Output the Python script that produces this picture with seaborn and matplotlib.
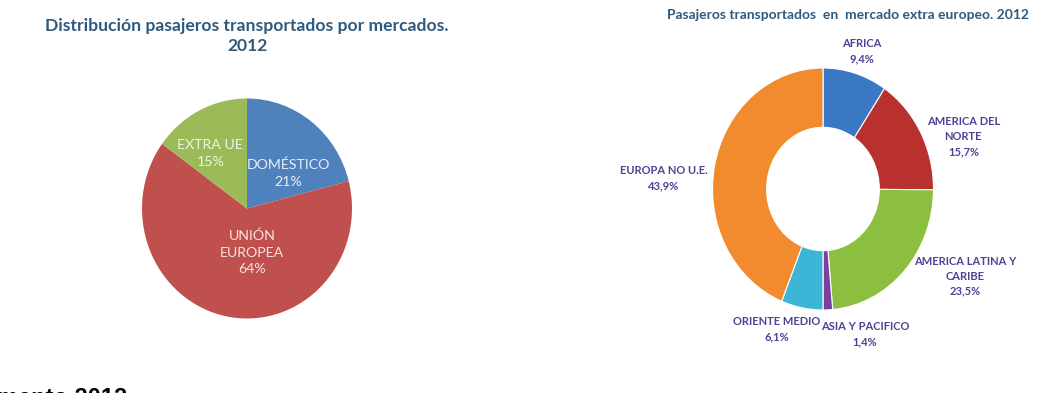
import matplotlib
matplotlib.use("Agg")
import matplotlib.pyplot as plt
import seaborn as sns

sns.set_theme(style="white")
plt.rcParams['font.family'] = ['Lato', 'DejaVu Sans']

# datos: distribucion por mercados
mercados = ['DOMÉSTICO', 'UNIÓN\nEUROPEA', 'EXTRA UE']
mercados_pct = [21, 64, 15]

# datos: mercado extra europeo
regiones = ['AFRICA', 'AMERICA DEL\nNORTE', 'AMERICA LATINA Y\nCARIBE',
            'ASIA Y PACIFICO', 'ORIENTE MEDIO', 'EUROPA NO U.E.']
regiones_pct = [9.4, 15.7, 23.5, 1.4, 6.1, 43.9]
regiones_txt = ['9,4%', '15,7%', '23,5%', '1,4%', '6,1%', '43,9%']

col_merc = ['#4F81BD', '#C0504D', '#9BBB59']
col_reg = ['#3A78C3', '#B8312F', '#8CBF3F', '#7B3FA0', '#3DB5D6', '#F28A2E']

W, H = 1060, 393
fig = plt.figure(figsize=(W / 100, H / 100), dpi=100)


def axes_px(cx, cy, rx, ry):
    return fig.add_axes([(cx - rx) / W, 1 - (cy + ry) / H, 2 * rx / W, 2 * ry / H])


# ---- pie izquierda
ax1 = axes_px(247, 208.5, 105, 110)
ax1.pie(mercados_pct, colors=col_merc, startangle=90, counterclock=False,
        wedgeprops=dict(linewidth=0))
ax1.set_aspect('auto')
ax1.set_xlim(-1, 1)
ax1.set_ylim(-1, 1)
pos1 = [(0.39, 0.32), (0.05, -0.40), (-0.35, 0.50)]
txtcol1 = ['#E6EEF8', '#F5E2E1', '#EEF3E2']
for lab, v, p, c in zip(mercados, mercados_pct, pos1, txtcol1):
    ax1.text(p[0], p[1], f'{lab}\n{v}%', ha='center', va='center',
             fontsize=10.2, color=c, linespacing=1.45)

fig.text(247 / W, 1 - 36 / H, 'Distribución pasajeros transportados por mercados.\n2012',
         ha='center', va='center', fontsize=12.6, fontweight='bold',
         color='#2F5A7E', linespacing=1.25)

# ---- donut derecha
ax2 = axes_px(823, 189, 110.5, 121)
ax2.pie(regiones_pct, colors=col_reg, startangle=90, counterclock=False,
        wedgeprops=dict(width=0.49, edgecolor='white', linewidth=0.8))
ax2.set_aspect('auto')
ax2.set_xlim(-1, 1)
ax2.set_ylim(-1, 1)
pos2 = [(0.35, 1.14), (1.27, 0.43), (1.29, -0.72),
        (0.38, -1.20), (-0.42, -1.16), (-1.44, 0.09)]
for lab, t, p in zip(regiones, regiones_txt, pos2):
    ax2.text(p[0], p[1], f'{lab}\n{t}', ha='center', va='center',
             fontsize=8, fontweight='bold', color='#4B4394', linespacing=1.45)

fig.text(848 / W, 1 - 15 / H, 'Pasajeros transportados  en  mercado extra europeo. 2012',
         ha='center', va='center', fontsize=10, fontweight='bold', color='#2F5A7E')

# texto cortado abajo (tambien cortado en el original)
fig.text(-0.003, 1 - 387 / H, 'mento 2012', ha='left', va='top',
         fontsize=17, fontweight='bold', color='black',
         family=['Liberation Sans', 'DejaVu Sans'])

fig.savefig('out.png', dpi=100)
